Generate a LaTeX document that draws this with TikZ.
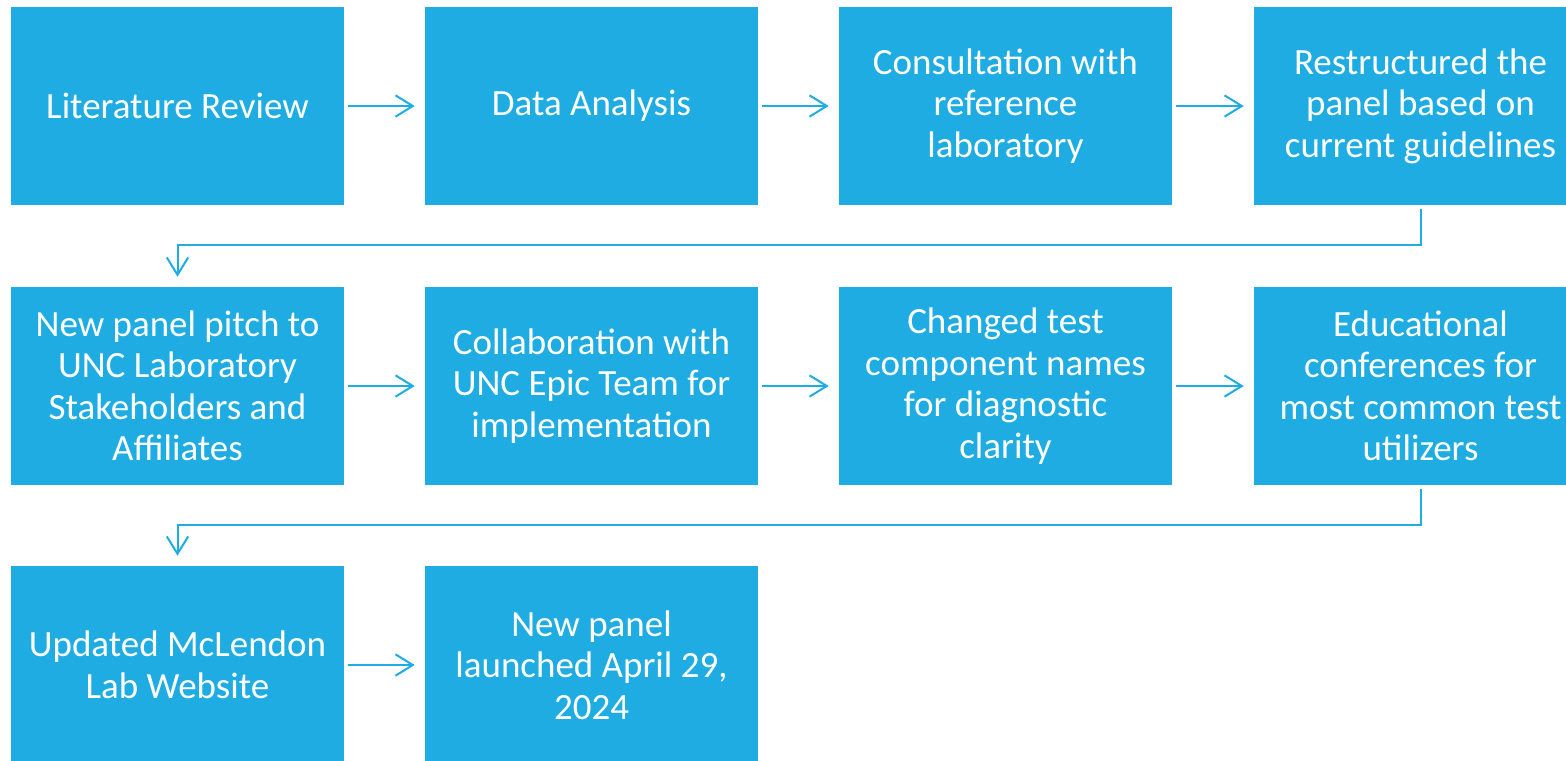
\documentclass[tikz,border=0pt]{standalone}
\usepackage{fontspec}
\setmainfont{Carlito}
\usepackage{tikz}
\usetikzlibrary{arrows.meta}

\definecolor{stepblue}{RGB}{31,172,227}

\begin{document}
\begin{tikzpicture}[x=0.75pt,y=-0.75pt]
  \tikzset{stepbox/.style={fill=stepblue, text=white, minimum width=249.75pt, minimum height=148.5pt,
      inner sep=0pt, align=center, font=\fontsize{27.75pt}{31.1pt}\selectfont},
    link/.style={draw=stepblue, line width=1.5pt, -{Straight Barb[length=13pt,width=16pt,line width=1.5pt]},
      shorten <=3pt, shorten >=7.5pt} }
  \clip (0,0) rectangle (1566,760);

  % first row
  \node[stepbox] (lit)   at ( 177.5,106) {Literature Review};
  \node[stepbox] (data)  at ( 591.5,106) {Data Analysis};
  \node[stepbox] (cons)  at (1005.5,106) {Consultation with\\reference\\laboratory};
  \node[stepbox] (restr) at (1420.5,106) {Restructured the\\panel based on\\current guidelines};

  % second row
  \node[stepbox] (pitch)  at ( 177.5,386) {New panel pitch to\\UNC Laboratory\\Stakeholders and\\Affiliates};
  \node[stepbox] (collab) at ( 591.5,386) {Collaboration with\\UNC Epic Team for\\implementation};
  \node[stepbox] (names)  at (1005.5,386) {Changed test\\component names\\for diagnostic\\clarity};
  \node[stepbox] (edu)    at (1420.5,386) {Educational\\conferences for\\most common test\\utilizers};

  % third row
  \node[stepbox] (web)    at ( 177.5,665) {Updated McLendon\\Lab Website};
  \node[stepbox] (launch) at ( 591.5,665) {New panel\\launched April 29,\\2024};

  \draw[link] (lit) -- (data);
  \draw[link] (data) -- (cons);
  \draw[link] (cons) -- (restr);
  \draw[link] (restr.south) -- ++(0,40) -| (pitch.north);

  \draw[link] (pitch) -- (collab);
  \draw[link] (collab) -- (names);
  \draw[link] (names) -- (edu);
  \draw[link] (edu.south) -- ++(0,40) -| (web.north);

  \draw[link] (web) -- (launch);
\end{tikzpicture}
\end{document}
